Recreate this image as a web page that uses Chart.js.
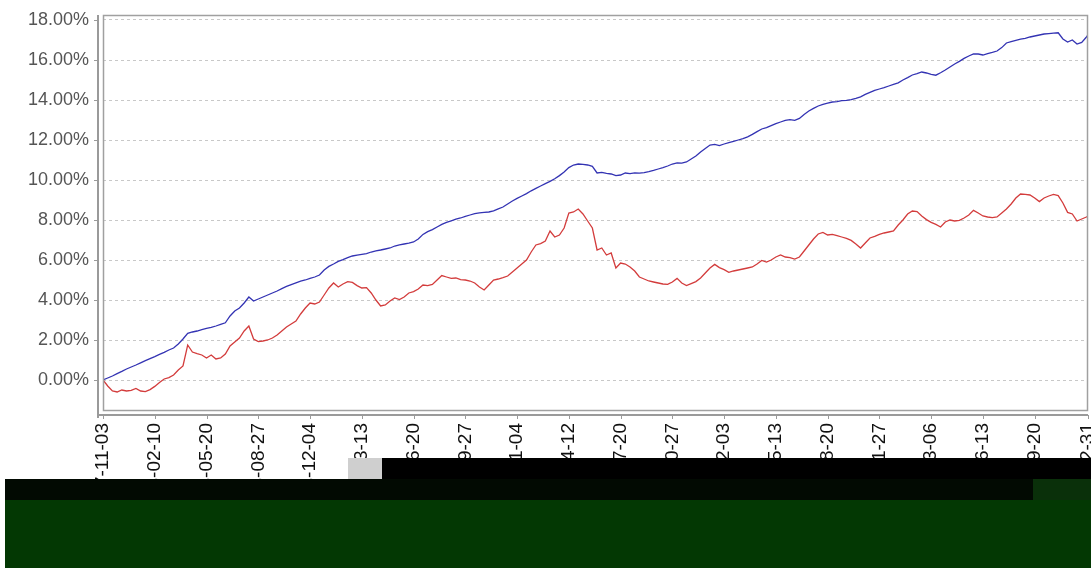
<!DOCTYPE html>
<html>
<head>
<meta charset="utf-8">
<script src="https://cdn.jsdelivr.net/npm/chart.js@4.4.0/dist/chart.umd.min.js"></script>
<style>
html,body{margin:0;padding:0;background:#fff;}
#wrap{width:1091px;height:568px;position:relative;}
</style>
</head>
<body>
<div id="wrap"><canvas id="c" width="1091" height="568"></canvas></div>
<script>
// ---- data ----
const START_DATE = '2017-11-03';
const STEP_DAYS = 9;
const END_DATE = '2022-12-31';
const TICK_DATES = ['2017-11-03','2018-02-10','2018-05-20','2018-08-27','2018-12-04','2019-03-13','2019-06-20','2019-09-27','2020-01-04','2020-04-12','2020-07-20','2020-10-27','2021-02-03','2021-05-13','2021-08-20','2021-11-27','2022-03-06','2022-06-13','2022-09-20','2022-12-31'];
const Y_TICKS = [0,2,4,6,8,10,12,14,16,18];

const BLUE_SERIES = [
0,0.1,0.2,0.32,0.43,0.55,0.65,0.75,0.86,0.97,
1.07,1.17,1.28,1.38,1.5,1.6,1.8,2.05,2.33,2.4,
2.45,2.52,2.58,2.63,2.7,2.78,2.86,3.2,3.45,3.6,
3.85,4.15,3.95,4.05,4.15,4.25,4.35,4.45,4.57,4.68,
4.77,4.86,4.94,5.0,5.08,5.15,5.25,5.5,5.68,5.8,
5.93,6.02,6.12,6.2,6.24,6.28,6.32,6.4,6.46,6.5,
6.55,6.6,6.7,6.76,6.8,6.84,6.9,7.05,7.28,7.42,
7.52,7.65,7.78,7.88,7.96,8.04,8.1,8.18,8.25,8.32,
8.36,8.38,8.4,8.46,8.56,8.65,8.8,8.95,9.08,9.2,
9.32,9.46,9.58,9.7,9.82,9.93,10.06,10.22,10.4,10.62,
10.75,10.8,10.78,10.75,10.68,10.35,10.38,10.33,10.3,10.22,
10.25,10.35,10.32,10.36,10.34,10.37,10.42,10.48,10.55,10.62,
10.7,10.8,10.86,10.84,10.9,11.05,11.2,11.4,11.58,11.75,
11.78,11.72,11.8,11.87,11.93,12.0,12.07,12.16,12.28,12.42,
12.55,12.62,12.72,12.82,12.9,12.98,13.02,12.98,13.08,13.28,
13.45,13.58,13.7,13.78,13.84,13.9,13.92,13.97,13.98,14.02,
14.08,14.16,14.28,14.38,14.48,14.55,14.62,14.7,14.78,14.86,
15.0,15.12,15.25,15.32,15.4,15.35,15.28,15.24,15.36,15.5,
15.65,15.8,15.93,16.08,16.2,16.3,16.3,16.25,16.32,16.38,
16.45,16.62,16.85,16.92,16.98,17.04,17.08,17.15,17.2,17.25,
17.3,17.32,17.34,17.36,17.05,16.9,17.0,16.8,16.88,17.15,
17.25
];

const RED_SERIES = [
0,-0.3,-0.55,-0.6,-0.5,-0.55,-0.52,-0.42,-0.55,-0.58,
-0.48,-0.32,-0.12,0.05,0.12,0.25,0.5,0.7,1.75,1.4,
1.32,1.25,1.1,1.25,1.05,1.1,1.3,1.7,1.9,2.1,
2.45,2.7,2.05,1.92,1.95,2.0,2.1,2.25,2.45,2.65,
2.8,2.95,3.3,3.6,3.85,3.8,3.9,4.25,4.6,4.85,
4.65,4.8,4.92,4.88,4.72,4.6,4.62,4.35,4.0,3.7,
3.75,3.95,4.1,4.02,4.15,4.35,4.42,4.55,4.75,4.72,
4.78,5.0,5.22,5.15,5.08,5.1,5.02,5.0,4.95,4.85,
4.65,4.5,4.75,5.0,5.05,5.12,5.2,5.4,5.6,5.8,
6.0,6.4,6.75,6.82,6.95,7.45,7.15,7.25,7.6,8.35,
8.4,8.55,8.3,7.95,7.6,6.5,6.6,6.25,6.35,5.6,
5.85,5.8,5.65,5.45,5.15,5.05,4.95,4.9,4.85,4.8,
4.78,4.9,5.08,4.85,4.72,4.82,4.92,5.1,5.35,5.6,
5.78,5.62,5.52,5.38,5.45,5.5,5.55,5.6,5.65,5.8,
5.98,5.9,6.0,6.15,6.25,6.15,6.12,6.05,6.15,6.45,
6.75,7.05,7.3,7.38,7.25,7.28,7.22,7.15,7.08,6.98,
6.8,6.6,6.85,7.1,7.18,7.28,7.35,7.4,7.45,7.75,
8.0,8.3,8.45,8.42,8.2,8.02,7.88,7.78,7.65,7.9,
8.0,7.95,7.98,8.1,8.25,8.48,8.35,8.2,8.15,8.12,
8.15,8.35,8.55,8.8,9.1,9.3,9.28,9.25,9.1,8.92,
9.1,9.2,9.28,9.22,8.85,8.38,8.3,7.95,8.05,8.15,
8.2
];

// ---- helpers ----
const DAY_MS = 86400000;
function toUTC(s){ const p = s.split('-').map(Number); return Date.UTC(p[0], p[1]-1, p[2]); }
const T0 = toUTC(START_DATE);
function dayOf(s){ return Math.round((toUTC(s) - T0) / DAY_MS); }
function dateStr(day){
  const d = new Date(T0 + day*DAY_MS);
  const mm = String(d.getUTCMonth()+1).padStart(2,'0');
  const dd = String(d.getUTCDate()).padStart(2,'0');
  return d.getUTCFullYear() + '-' + mm + '-' + dd;
}
// dates of the observations: every STEP_DAYS from start, final one is END_DATE
const END_DAY = dayOf(END_DATE);
const POINT_DAYS = BLUE_SERIES.map((_, i) => i === BLUE_SERIES.length - 1 ? END_DAY : i * STEP_DAYS);
const POINT_DATES = POINT_DAYS.map(dateStr);

const blueData = POINT_DATES.map((d, i) => ({x: dayOf(d), y: BLUE_SERIES[i]}));
const redData = POINT_DATES.map((d, i) => ({x: dayOf(d), y: RED_SERIES[i]}));

// ---- decorations: frame, offset axis lines, and the damaged band at the bottom ----
const framePlugin = {
  id: 'frame',
  afterDraw(chart){
    const ctx = chart.ctx, a = chart.chartArea;
    const xs = chart.scales.x, ys = chart.scales.y;
    ctx.save();
    // plot frame
    ctx.strokeStyle = '#a0a0a0';
    ctx.lineWidth = 1.5;
    ctx.strokeRect(a.left + 0.5, a.top + 0.5, a.right - a.left - 1, a.bottom - a.top);
    // offset axis lines
    ctx.strokeStyle = '#9a9a9a';
    ctx.lineWidth = 2;
    const axX = a.left - 5, axY = a.bottom + 5;
    ctx.beginPath();
    ctx.moveTo(axX, a.top); ctx.lineTo(axX, axY + 3);
    ctx.moveTo(axX - 1, axY); ctx.lineTo(a.right, axY);
    ctx.stroke();
    ctx.lineWidth = 1;
    ctx.beginPath();
    ys.ticks.forEach(t => { const p = Math.round(ys.getPixelForValue(t.value)) + 0.5; ctx.moveTo(axX - 4, p); ctx.lineTo(axX, p); });
    xs.ticks.forEach(t => { const p = Math.round(xs.getPixelForValue(t.value)) + 0.5; ctx.moveTo(p, axY); ctx.lineTo(p, axY + 4); });
    ctx.stroke();
    // damaged band of the source picture
    ctx.fillStyle = '#cfcfcf'; ctx.fillRect(348, 458, 34, 21);
    ctx.fillStyle = '#000000'; ctx.fillRect(382, 458, 709, 21);
    ctx.fillStyle = '#020a02'; ctx.fillRect(5, 479, 1028, 21);
    ctx.fillStyle = '#0a300a'; ctx.fillRect(1033, 479, 58, 21);
    ctx.fillStyle = '#033803'; ctx.fillRect(5, 500, 1086, 68);
    ctx.restore();
  }
};

new Chart(document.getElementById('c'), {
  type: 'line',
  data: {
    datasets: [
      { label: '组合', data: blueData, borderColor: '#3333b3', borderWidth: 1.3, pointRadius: 0, tension: 0, fill: false },
      { label: '基准', data: redData, borderColor: '#d33c3c', borderWidth: 1.3, pointRadius: 0, tension: 0, fill: false }
    ]
  },
  options: {
    responsive: false,
    animation: false,
    events: [],
    layout: { padding: { left: 0, top: 15, right: 3, bottom: 0 } },
    plugins: { legend: { display: false }, tooltip: { enabled: false } },
    scales: {
      x: {
        type: 'linear',
        min: 0,
        max: END_DAY,
        grid: { display: false, drawTicks: false },
        border: { display: false },
        afterBuildTicks(scale){ scale.ticks = TICK_DATES.map(d => ({ value: dayOf(d) })); },
        afterFit(scale){ scale.height = 158; scale.paddingLeft = 0; scale.paddingRight = 0; },
        ticks: {
          autoSkip: false,
          minRotation: 90,
          maxRotation: 90,
          padding: 13,
          color: '#111111',
          font: { family: 'Liberation Sans', size: 19 },
          callback: (v) => dateStr(v)
        }
      },
      y: {
        min: -1.5,
        max: 18.25,
        grid: { color: '#c8c8c8', lineWidth: 1, drawTicks: false },
        border: { display: false, dash: [3, 3] },
        afterBuildTicks(scale){ scale.ticks = Y_TICKS.map(v => ({ value: v })); },
        afterFit(scale){ scale.width = 103; scale.paddingTop = 0; scale.paddingBottom = 0; },
        ticks: {
          padding: 14,
          color: '#555555',
          font: { family: 'Liberation Sans', size: 18 },
          callback: (v) => v.toFixed(2) + '%'
        }
      }
    }
  },
  plugins: [framePlugin]
});
</script>
</body>
</html>
